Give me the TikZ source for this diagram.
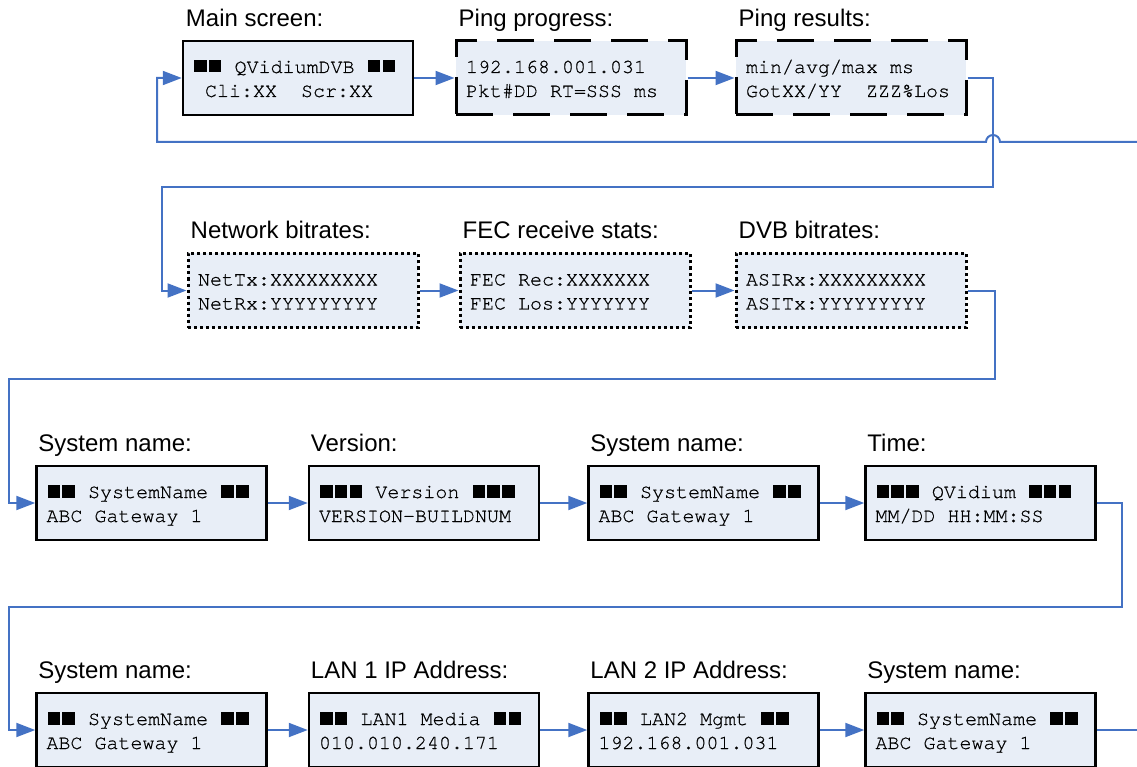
\documentclass[tikz,border=0pt]{standalone}
\usepackage{fontspec}
\setmainfont{Liberation Sans}
\newfontfamily\lcdfont[FakeBold=0.6]{TeX Gyre Cursor}
\usetikzlibrary{arrows.meta}
\definecolor{lcdfill}{RGB}{232,238,247}
\definecolor{flow}{RGB}{68,114,196}
% two-line LCD text with fixed vertical extent; every space is one character cell
\newcommand{\lcdtext}[2]{\spaceskip=12pt\xspaceskip=12pt\relax
  \rule{0pt}{19pt}#1\\#2\rule[-5pt]{0pt}{5pt}}
\newcommand{\gap}{\hphantom{x}}
% one solid block cell of the display
\newcommand{\blk}{\makebox[14.8pt][c]{\rule[0.5pt]{12.5pt}{12.3pt}}}
\tikzset{
  lcd/.style={draw=black, line width=2.5pt, fill=lcdfill,
    minimum width=230pt, minimum height=74pt, text width=210pt,
    inner xsep=10pt, inner ysep=0pt, align=left,
    font=\lcdfont\fontsize{20}{24}\selectfont},
  lcddash/.style={lcd, line width=3pt, dash pattern=on 37pt off 20pt},
  lcddot/.style={lcd, line width=3pt, dash pattern=on 3pt off 3pt},
  caption/.style={anchor=base west, inner sep=0pt, font=\fontsize{24}{28}\selectfont},
  flowline/.style={draw=flow, line width=2pt},
  flowarrow/.style={flowline, -{Triangle[length=19pt,width=14pt]}},
}
\begin{document}
\begin{tikzpicture}[x=1pt,y=1pt]
\useasboundingbox (0,0) rectangle (1137,-767);

% row 1: main screen and ping
\node[lcd] (main) at (298,-78) {\lcdtext{\blk\blk\ QVidiumDVB\ \blk\blk}{\gap Cli:XX\ \ Scr:XX}};
\node[lcddash] (ping) at (571,-78) {\lcdtext{192.168.001.031}{Pkt\#DD RT=SSS ms}};
\node[lcddash] (res) at (851,-78) {\lcdtext{min/avg/max ms}{GotXX/YY\ \ ZZZ\%Los}};

% row 2: statistics
\node[lcddot] (net) at (303,-290.5) {\lcdtext{NetTx:XXXXXXXXX}{NetRx:YYYYYYYYY}};
\node[lcddot] (fec) at (575,-290.5) {\lcdtext{FEC Rec:XXXXXXX}{FEC Los:YYYYYYY}};
\node[lcddot] (dvb) at (851,-290.5) {\lcdtext{ASIRx:XXXXXXXXX}{ASITx:YYYYYYYYY}};

% row 3: identity
\node[lcd] (sysa) at (151.5,-503) {\lcdtext{\blk\blk\ SystemName\ \blk\blk}{ABC Gateway 1}};
\node[lcd] (ver) at (424,-503) {\lcdtext{\blk\blk\blk\ Version\ \blk\blk\blk}{VERSION-BUILDNUM}};
\node[lcd] (sysb) at (703.5,-503) {\lcdtext{\blk\blk\ SystemName\ \blk\blk}{ABC Gateway 1}};
\node[lcd] (time) at (980.5,-503) {\lcdtext{\blk\blk\blk\ QVidium\ \blk\blk\blk}{MM/DD HH:MM:SS}};

% row 4: addresses
\node[lcd] (sysc) at (151.5,-730) {\lcdtext{\blk\blk\ SystemName\ \blk\blk}{ABC Gateway 1}};
\node[lcd] (lana) at (424,-730) {\lcdtext{\blk\blk\ LAN1 Media\ \blk\blk}{010.010.240.171}};
\node[lcd] (lanb) at (703.5,-730) {\lcdtext{\blk\blk\ LAN2 Mgmt\ \blk\blk}{192.168.001.031}};
\node[lcd] (sysd) at (980.5,-730) {\lcdtext{\blk\blk\ SystemName\ \blk\blk}{ABC Gateway 1}};

% captions
\node[caption] (lmain) at ([shift={(4,13)}]main.north west) {Main screen:};
\node[caption] (lping) at ([shift={(4,13)}]ping.north west) {Ping progress:};
\node[caption] (lres) at ([shift={(4,13)}]res.north west) {Ping results:};
\node[caption] (lnet) at ([shift={(4,13)}]net.north west) {Network bitrates:};
\node[caption] (lfec) at ([shift={(4,13)}]fec.north west) {FEC receive stats:};
\node[caption] (ldvb) at ([shift={(4,13)}]dvb.north west) {DVB bitrates:};
\node[caption] (lsysa) at ([shift={(3,13)}]sysa.north west) {System name:};
\node[caption] (lver) at ([shift={(3,13)}]ver.north west) {Version:};
\node[caption] (lsysb) at ([shift={(3,13)}]sysb.north west) {System name:};
\node[caption] (ltime) at ([shift={(3,13)}]time.north west) {Time:};
\node[caption] (lsysc) at ([shift={(3,13)}]sysc.north west) {System name:};
\node[caption] (llana) at ([shift={(3,13)}]lana.north west) {LAN 1 IP Address:};
\node[caption] (llanb) at ([shift={(3,13)}]lanb.north west) {LAN 2 IP Address:};
\node[caption] (lsysd) at ([shift={(3,13)}]sysd.north west) {System name:};

% routing points
\coordinate (ra) at (993,-187);
\coordinate (rb) at (162,-187);
\coordinate (rc) at (995,-379);
\coordinate (rd) at (9,-379);
\coordinate (re) at (1122,-607);
\coordinate (rf) at (9,-607);
\coordinate (back) at (1137,-142);
\coordinate (hop) at (1000,-142);
\coordinate (rg) at (157,-142);
\coordinate (out) at (1137,-730);

% connectors
\draw[flowarrow] (main.east) -- (ping.west);
\draw[flowarrow] (ping.east) -- (res.west);
\draw[flowarrow] (res.east) -| (ra) -- (rb) |- (net.west);
\draw[flowarrow] (net.east) -- (fec.west);
\draw[flowarrow] (fec.east) -- (dvb.west);
\draw[flowarrow] (dvb.east) -| (rc) -- (rd) |- (sysa.west);
\draw[flowarrow] (sysa.east) -- (ver.west);
\draw[flowarrow] (ver.east) -- (sysb.west);
\draw[flowarrow] (sysb.east) -- (time.west);
\draw[flowarrow] (time.east) -| (re) -- (rf) |- (sysc.west);
\draw[flowarrow] (sysc.east) -- (lana.west);
\draw[flowarrow] (lana.east) -- (lanb.west);
\draw[flowarrow] (lanb.east) -- (sysd.west);
\draw[flowline] (sysd.east) -- (out);
\draw[flowarrow] (back) -- (hop) arc[start angle=0, end angle=180, radius=7pt] -- (rg) |- (main.west);
\end{tikzpicture}
\end{document}
